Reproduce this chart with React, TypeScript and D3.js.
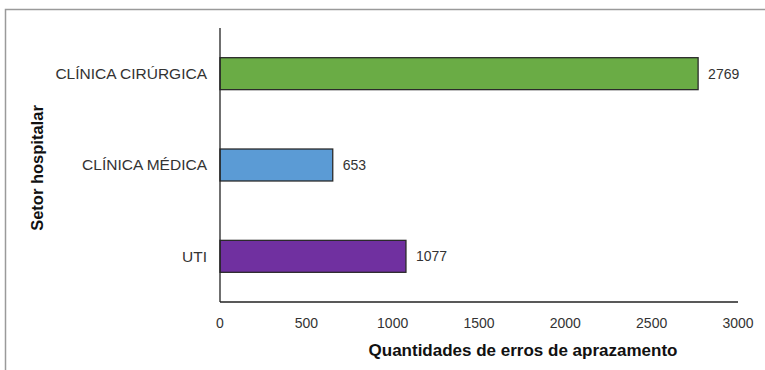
import React from "react";
import * as d3 from "d3";

const categories = ["CLÍNICA CIRÚRGICA", "CLÍNICA MÉDICA", "UTI"];
const values = [2769, 653, 1077];
const colors = ["#6aac45", "#5b9bd5", "#7030a0"];
const xTicks = [0, 500, 1000, 1500, 2000, 2500, 3000];

const W = 765;
const H = 370;
const margin = { left: 220, right: 27, top: 28, bottom: 68 };

export default function App() {
  const x = d3.scaleLinear().domain([0, 3000]).range([margin.left, W - margin.right]);
  const y = d3
    .scaleBand<string>()
    .domain(categories)
    .range([margin.top, H - margin.bottom])
    .paddingInner(0.65)
    .paddingOuter(0.325);
  const font = "Liberation Sans, Arial, sans-serif";
  const axisY = H - margin.bottom;
  return (
    <svg
      width={W}
      height={H}
      style={{ position: "absolute", left: 0, top: 0, background: "#fff" }}
      fontFamily={font}
    >
      <rect x={5.5} y={9.5} width={W + 10} height={H + 10} fill="none" stroke="#9a9a9a" strokeWidth={1.5} />
      {categories.map((c, i) => (
        <g key={c}>
          <rect
            x={x(0)}
            y={y(c)!}
            width={x(values[i]) - x(0)}
            height={y.bandwidth()}
            fill={colors[i]}
            stroke="#2b2b2b"
            strokeWidth={1.3}
          />
          <text
            x={x(values[i]) + 10}
            y={y(c)! + y.bandwidth() / 2}
            dy="0.35em"
            fontSize={14}
            fill="#333"
          >
            {values[i]}
          </text>
          <text
            x={margin.left - 13}
            y={y(c)! + y.bandwidth() / 2}
            dy="0.35em"
            textAnchor="end"
            fontSize={15.5}
            fill="#333"
          >
            {c}
          </text>
        </g>
      ))}
      <line x1={margin.left} x2={margin.left} y1={margin.top} y2={axisY} stroke="#222" strokeWidth={1.3} />
      <line x1={margin.left} x2={W - margin.right} y1={axisY} y2={axisY} stroke="#222" strokeWidth={1.3} />
      {xTicks.map((t) => (
        <text key={t} x={x(t)} y={axisY + 26} textAnchor="middle" fontSize={14} fill="#333">
          {t}
        </text>
      ))}
      <text
        x={(x(0) + x(3000)) / 2 + 44}
        y={axisY + 54}
        textAnchor="middle"
        fontSize={17}
        fontWeight="bold"
        fill="#111"
      >
        Quantidades de erros de aprazamento
      </text>
      <text
        transform={`translate(43, ${(margin.top + axisY) / 2 + 3}) rotate(-90)`}
        textAnchor="middle"
        fontSize={16.5}
        fontWeight="bold"
        fill="#111"
      >
        Setor hospitalar
      </text>
    </svg>
  );
}
